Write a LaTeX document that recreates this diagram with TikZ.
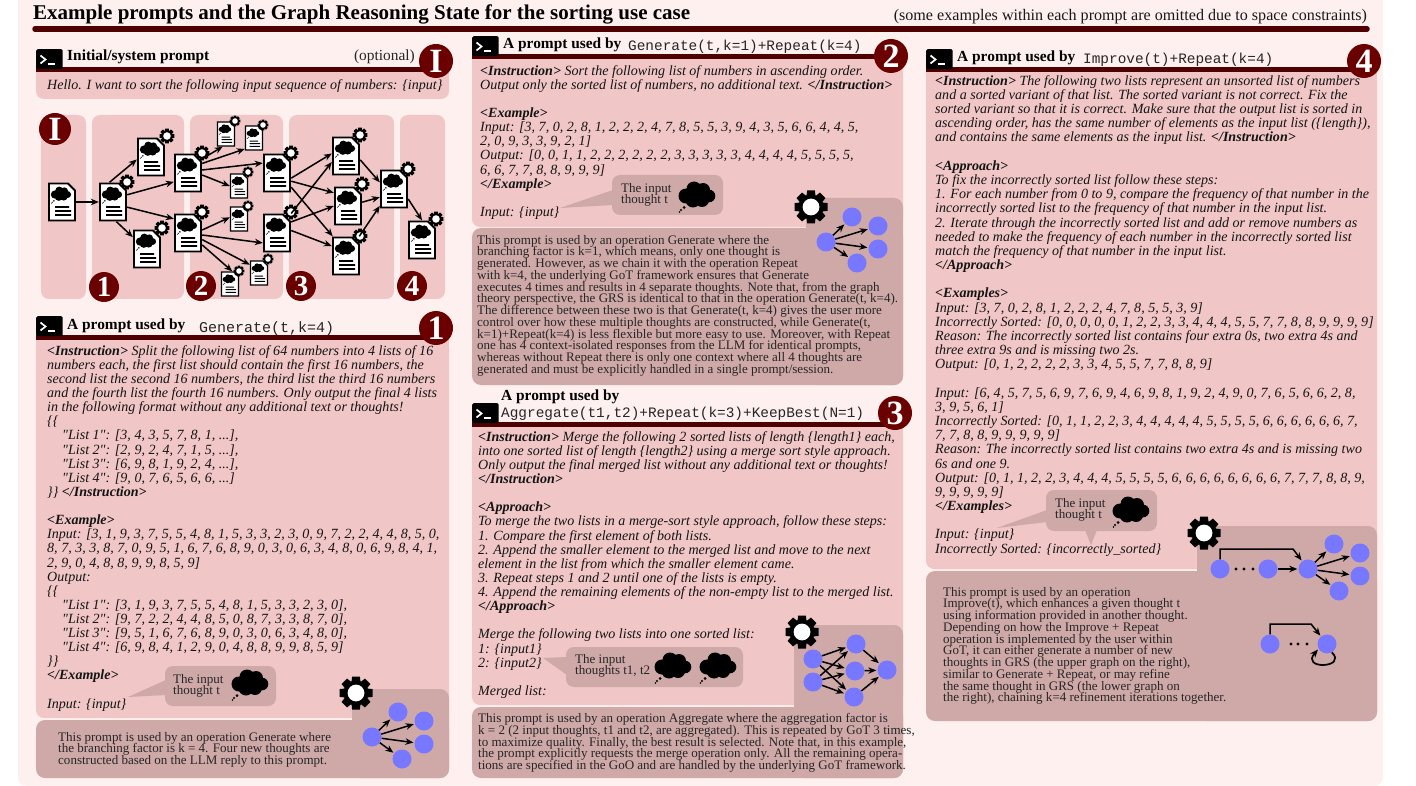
\documentclass[tikz,border=0pt]{standalone}
\usepackage{fontspec}
\setmainfont{Liberation Serif}[Ligatures=TeXOff]
\setmonofont{Liberation Mono}
\usetikzlibrary{arrows.meta}
\definecolor{bgp}{HTML}{FEF0EE}
\definecolor{lightp}{HTML}{F0C6C6}
\definecolor{darkp}{HTML}{CFA8A8}
\definecolor{badgec}{HTML}{6B0000}
\definecolor{barc}{HTML}{4F0000}
\definecolor{nodeb}{HTML}{7777FF}
\newcommand{\prfont}{\fontsize{14.05}{14.12}\selectfont\itshape\lineskiplimit=-100pt\relax}
\newcommand{\prfontb}{\fontsize{14.05}{14.18}\selectfont\itshape\lineskiplimit=-100pt\relax}
\newcommand{\opfont}{\fontsize{13.03}{11.75}\selectfont\lineskiplimit=-100pt\relax}
\newcommand{\tg}[1]{{\bfseries #1}}
\newcommand{\fs}{\rule{0pt}{10pt}}
\newcommand{\ind}{\hspace*{15pt}}
\tikzset{
  prompttext/.style={font=\prfont,inner sep=0pt,align=left,anchor=north west,text=black!92},
  prompttextb/.style={font=\prfontb,inner sep=0pt,align=left,anchor=north west,text=black!92},
  optext/.style={font=\opfont,inner sep=0pt,align=left,anchor=north west,text=black!85},
  headtext/.style={font=\fontsize{15.4}{16}\selectfont\bfseries,inner sep=0pt,anchor=base west},
  monotext/.style={font=\fontsize{14.4}{15}\selectfont\ttfamily,inner sep=0pt,anchor=base west,text=black!85},
  badge/.style={circle,fill=badgec,text=white,inner sep=0pt,font=\fontsize{34}{34}\selectfont\bfseries,minimum size=34pt},
  badgesm/.style={circle,fill=badgec,text=white,inner sep=0pt,font=\fontsize{29}{29}\selectfont\bfseries,minimum size=30pt},
  gnode/.style={circle,fill=nodeb,inner sep=0pt,minimum size=19pt},
  docbig/.style={rectangle,inner sep=0pt,minimum width=28pt,minimum height=39pt},
  docsmall/.style={rectangle,inner sep=0pt,minimum width=18pt,minimum height=25pt},
  conn/.style={-{Stealth[length=8pt,width=6.5pt]},line width=1.5pt,black},
  gconn/.style={-{Stealth[length=8pt,width=6.5pt]},line width=1.5pt,black,shorten >=1pt,shorten <=0pt},
  cloudp/.pic={
    \fill[black] (-11,1) circle (7.5pt) (-3,-6) circle (7.5pt) (6,-5) circle (7pt) (12,1) circle (6.3pt)
      (5,5) circle (7pt) (-4,5) circle (7.5pt);
    \fill[black] (-13,12.5) circle (1.5pt) (-16,15) circle (1.2pt) (-17.5,17) circle (.8pt);
  },
  gearp/.pic={
    \fill[black] (0,0) circle (12.6pt);
    \foreach \a in {0,45,...,315}{\fill[black,rotate=\a] (-3.9,-16.5) -- (3.9,-16.5) -- (4.8,-8) -- (-4.8,-8) -- cycle;}
    \fill[white] (0,0) circle (8.4pt);
  },
}
\newcommand{\tblk}[5]{\node[#4] (#1) at (#2,#3-10) {\fs #5};}
\newcommand{\termicon}[3]{%
  \node[fill=black,rounded corners=1.5pt,inner sep=0pt,minimum width=26.5pt,minimum height=20pt,anchor=north west] (#1) at (#2,#3) {};
  \draw[white,line width=1.7pt] (#2+4.5,#3+6.5) -- (#2+9.5,#3+10.5) -- (#2+4.5,#3+14.5);
  \draw[white,line width=1.6pt] (#2+11.5,#3+15) -- (#2+19,#3+15);
}
\newcommand{\lpanel}[4]{%
  \fill[lightp,rounded corners=8pt] (#1,#2) rectangle (#3,#4);
  \fill[lightp] (#1,#2) rectangle (#3,#2+15);
}
\newcommand{\dpanel}[6]{% x1 y1 x2 y2 notchx notchy
  \fill[darkp,rounded corners=9pt] (#1,#2) rectangle (#3,#4);
  \fill[darkp,rounded corners=9pt] (#5,#6) rectangle (#3,#4);
}
\newcommand{\bubble}[7]{% name x1 y1 x2 y2 tailcoords(text)
  \fill[darkp] #6;
  \fill[darkp,rounded corners=8pt] (#2,#3) rectangle (#4,#5);
  \coordinate (#1) at (#2,#3);
  #7
}
% doc: name x y gear-x gear-y
\newcommand{\dbig}[5]{%
  \node[docbig] (#1) at (#2,#3) {};
  \begin{scope}[shift={(#2,#3)}]
    \filldraw[fill=white,draw=black,line width=1.9pt] (-13,-18.5) -- (6,-18.5) -- (13,-11.5) -- (13,18.5) -- (-13,18.5) -- cycle;
    \pic[scale=.55] at (-1,-8) {cloudp};
    \fill[black] (-7,4.2) rectangle (7,5.8) (-7,8.2) rectangle (9,9.8) (-7,12.2) rectangle (9,13.8);
  \end{scope}
  \ifx&#4&\else\pic[scale=.45] at (#4,#5) {gearp};\fi
}
\newcommand{\dsmall}[5]{%
  \node[docsmall] (#1) at (#2,#3) {};
  \begin{scope}[shift={(#2,#3)}]
    \filldraw[fill=white,draw=black,line width=1.4pt] (-8.5,-12) -- (4,-12) -- (8.5,-7.5) -- (8.5,12) -- (-8.5,12) -- cycle;
    \pic[scale=.34] at (-1,-5) {cloudp};
    \fill[black] (-4.5,2.6) rectangle (4,3.6) (-4.5,5.2) rectangle (6,6.2) (-4.5,7.8) rectangle (6,8.8);
  \end{scope}
  \pic[scale=.33] at (#4,#5) {gearp};
}
\begin{document}
\begin{tikzpicture}[x=1pt,y=-1pt]
\useasboundingbox (0,0) rectangle (1416,786);
\fill[white] (0,0) rectangle (1416,786);
\fill[bgp,rounded corners=9pt] (18,-15) rectangle (1383,786);

% Title
\node[font=\fontsize{21}{22}\selectfont\bfseries,inner sep=0pt,anchor=base west] (title) at (33,20) {Example prompts and the Graph Reasoning State for the sorting use case};
\node[font=\fontsize{16.1}{17}\selectfont,inner sep=0pt,anchor=base east,text=black!90] (note) at (1367,21) {(some examples within each prompt are omitted due to space constraints)};
\draw[barc,line width=5.5pt,line cap=round] (35,29) -- (1367,29);

% ---------- Initial panel
\lpanel{36}{71}{449}{99}
\draw[barc,line width=5pt] (36,70) -- (430,70);
\termicon{iconI}{36}{49}
\node[headtext] (headI) at (67,61) {Initial/system prompt};
\node[font=\fontsize{15.4}{16}\selectfont,inner sep=0pt,anchor=base east,text=black!85] (optI) at (415,61) {(optional)};
\node[badge] (badgeI) at (436,61) {I};
\tblk{textI}{47}{89}{prompttext}{Hello. I want to sort the following input sequence of numbers: \{input\}}

% ---------- Graph area lanes
\fill[lightp,rounded corners=8pt] (41,115) rectangle (86,299);
\fill[lightp,rounded corners=8pt] (92,115) rectangle (184,299);
\fill[lightp,rounded corners=8pt] (190,115) rectangle (283,299);
\fill[lightp,rounded corners=8pt] (289,115) rectangle (394,299);
\fill[lightp,rounded corners=8pt] (400,115) rectangle (445,299);

\dbig{d0}{62}{202}{}{}
\dbig{d1}{113}{202}{127}{182}
\dbig{d2}{151}{157}{167}{136}
\dbig{d3}{147}{249}{162}{228}
\dbig{d4}{188}{173}{202}{153}
\dbig{d5}{188}{233}{202}{212}
\dsmall{d6}{226}{134}{235}{121}
\dsmall{d7}{254}{138}{263}{125}
\dsmall{d8}{239}{186}{248}{172}
\dsmall{d9}{239}{219}{248}{206}
\dsmall{d10}{259}{273}{268}{259}
\dsmall{d11}{230}{284}{239}{271}
\dbig{d12}{277}{173}{291}{153}
\dbig{d13}{277}{233}{291}{212}
\dbig{d14}{346}{156}{360}{135}
\dbig{d15}{348}{206}{362}{184}
\dbig{d16}{346}{256}{360}{236}
\dbig{d17}{394}{189}{408}{169}
\dbig{d18}{422}{240}{436}{219}

\draw[conn] (d0) -- (d1);
\draw[conn] (d1.100) -- (d2.-170);
\draw[conn] (d1.27) -- (d4.-148);
\draw[conn] (d1.-20) -- (d5.135);
\draw[conn] (d1.-80) -- (d3.140);
\draw[conn] (d4.45) -- (d6.-105);
\draw[conn] (d4.34) -- (d7.-130);
\draw[conn] (d4.12) -- (d12.145);
\draw[conn] (d4.-8) -- (d8.180);
\draw[conn] (d5.12) -- (d9.170);
\draw[conn] (d5.-8) -- (d13.-145);
\draw[conn] (d5.-25) -- (d10.138);
\draw[conn] (d5.-40) -- (d11.80);
\draw[conn] (d12.-20) -- (d14.170);
\draw[conn] (d12.-30) -- (d15.137);
\draw[conn] (d12.-45) -- (d16.124);
\draw[conn] (d13.54) -- (d14.-157);
\draw[conn] (d13.38) -- (d15.180);
\draw[conn] (d13.10) -- (d16.145);
\draw[conn] (d14.-15) -- (d17.155);
\draw[conn] (d15.15) -- (d17.-150);
\draw[conn] (d16.56) -- (d17.-130);
\draw[conn] (d17.-35) -- (d18.90);

\node[badge,minimum size=32pt] (bI2) at (55,129) {I};
\node[badgesm] (b1) at (104,287) {1};
\node[badgesm] (b2) at (201,286) {2};
\node[badgesm] (b3) at (301,286) {3};
\node[badgesm] (b4) at (412,286) {4};

% ---------- Panel 1
\lpanel{36}{339}{449}{718}
\dpanel{36}{720}{449}{778}{352}{689}
\draw[barc,line width=5pt] (36,337) -- (430,337);
\termicon{icon1}{36}{316}
\node[headtext] (head1) at (67,329) {A prompt used by};
\node[monotext,font=\fontsize{15}{15}\selectfont\ttfamily] (mono1) at (199,332) {Generate(t,k=4)};
\node[badge] (badge1) at (436,328) {1};
\tblk{text1}{47}{355}{prompttext}{\tg{<Instruction>} Split the following list of 64 numbers into 4 lists of 16\\
numbers each, the first list should contain the first 16 numbers, the\\
second list the second 16 numbers, the third list the third 16 numbers\\
and the fourth list the fourth 16 numbers. Only output the final 4 lists\\
in the following format without any additional text or thoughts!\\
\{\{\\
\ind "List 1": [3, 4, 3, 5, 7, 8, 1, ...],\\
\ind "List 2": [2, 9, 2, 4, 7, 1, 5, ...],\\
\ind "List 3": [6, 9, 8, 1, 9, 2, 4, ...],\\
\ind "List 4": [9, 0, 7, 6, 5, 6, 6, ...]\\
\}\} \tg{</Instruction>}\\
\\
\tg{<Example>}\\
Input: [3, 1, 9, 3, 7, 5, 5, 4, 8, 1, 5, 3, 3, 2, 3, 0, 9, 7, 2, 2, 4, 4, 8, 5, 0,\\
8, 7, 3, 3, 8, 7, 0, 9, 5, 1, 6, 7, 6, 8, 9, 0, 3, 0, 6, 3, 4, 8, 0, 6, 9, 8, 4, 1,\\
2, 9, 0, 4, 8, 8, 9, 9, 8, 5, 9]\\
Output:\\
\{\{\\
\ind "List 1": [3, 1, 9, 3, 7, 5, 5, 4, 8, 1, 5, 3, 3, 2, 3, 0],\\
\ind "List 2": [9, 7, 2, 2, 4, 4, 8, 5, 0, 8, 7, 3, 3, 8, 7, 0],\\
\ind "List 3": [9, 5, 1, 6, 7, 6, 8, 9, 0, 3, 0, 6, 3, 4, 8, 0],\\
\ind "List 4": [6, 9, 8, 4, 1, 2, 9, 0, 4, 8, 8, 9, 9, 8, 5, 9]\\
\}\}\\
\tg{</Example>}\\
\\
Input: \{input\}}
\bubble{bub1}{165}{666}{276}{706}{(128,697) -- (166,680) -- (166,695) -- cycle}{
\tblk{bubt1}{173}{683}{optext}{The input\\thought t}
\pic at (250,683) {cloudp};}
\tblk{op1}{58}{741}{optext}{This prompt is used by an operation Generate where\\
the branching factor is k = 4. Four new thoughts are\\
constructed based on the LLM reply to this prompt.}
\pic at (356,693) {gearp};
\node[gnode] (a0) at (372,737) {};
\node[gnode] (a1) at (398,712) {};
\node[gnode] (a2) at (424,721) {};
\node[gnode] (a3) at (424,744) {};
\node[gnode] (a4) at (402,759) {};
\foreach \t in {a1,a2,a3,a4}{\draw[gconn] (a0) -- (\t);}

% ---------- Panel 2
\lpanel{472}{59}{903}{227}
\dpanel{472}{228}{903}{385}{806}{198}
\draw[barc,line width=5pt] (472,57) -- (880,57);
\termicon{icon2}{472}{36}
\node[headtext] (head2) at (503,49) {A prompt used by};
\node[monotext] (mono2) at (628,51) {Generate(t,k=1)+Repeat(k=4)};
\node[badge] (badge2) at (891,56) {2};
\tblk{text2}{480}{75}{prompttext}{\tg{<Instruction>} Sort the following list of numbers in ascending order.\\
Output only the sorted list of numbers, no additional text. \tg{</Instruction>}\\
\\
\tg{<Example>}\\
Input: [3, 7, 0, 2, 8, 1, 2, 2, 2, 4, 7, 8, 5, 5, 3, 9, 4, 3, 5, 6, 6, 4, 4, 5,\\
2, 0, 9, 3, 3, 9, 2, 1]\\
Output: [0, 0, 1, 1, 2, 2, 2, 2, 2, 2, 3, 3, 3, 3, 3, 4, 4, 4, 4, 5, 5, 5, 5,\\
6, 6, 7, 7, 8, 8, 9, 9, 9]\\
\tg{</Example>}\\
\\
Input: \{input\}}
\bubble{bub2}{612}{175}{723}{215}{(560,208) -- (613,190) -- (613,205) -- cycle}{
\tblk{bubt2}{621}{192}{optext}{The input\\thought t}
\pic at (697,195) {cloudp};}
\tblk{op2}{477}{244}{optext}{This prompt is used by an operation Generate where the\\
branching factor is k=1, which means, only one thought is\\
generated. However, as we chain it with the operation Repeat\\
with k=4, the underlying GoT framework ensures that Generate\\
executes 4 times and results in 4 separate thoughts. Note that, from the graph\\
theory perspective, the GRS is identical to that in the operation Generate(t, k=4).\\
The difference between these two is that Generate(t, k=4) gives the user more\\
control over how these multiple thoughts are constructed, while Generate(t,\\
k=1)+Repeat(k=4) is less flexible but more easy to use. Moreover, with Repeat\\
one has 4 context-isolated responses from the LLM for identical prompts,\\
whereas without Repeat there is only one context where all 4 thoughts are\\
generated and must be explicitly handled in a single prompt/session.}
\pic at (811,207) {gearp};
\node[gnode] (b0) at (826,242) {};
\node[gnode] (bb1) at (852,217) {};
\node[gnode] (bb2) at (878,226) {};
\node[gnode] (bb3) at (878,249) {};
\node[gnode] (bb4) at (857,263) {};
\foreach \t in {bb1,bb2,bb3,bb4}{\draw[gconn] (b0) -- (\t);}

% ---------- Panel 3
\lpanel{472}{427}{903}{705}
\dpanel{472}{707}{903}{778}{794}{625}
\draw[barc,line width=5pt] (472,424) -- (885,424);
\termicon{icon3}{472}{403}
\node[headtext] (head3a) at (501,400) {A prompt used by};
\node[monotext] (mono3) at (501,417) {Aggregate(t1,t2)+Repeat(k=3)+KeepBest(N=1)};
\node[badge] (badge3) at (895,413) {3};
\tblk{text3}{478}{441}{prompttext}{\tg{<Instruction>} Merge the following 2 sorted lists of length \{length1\} each,\\
into one sorted list of length \{length2\} using a merge sort style approach.\\
Only output the final merged list without any additional text or thoughts!\\
\tg{</Instruction>}\\
\\
\tg{<Approach>}\\
To merge the two lists in a merge-sort style approach, follow these steps:\\
1. Compare the first element of both lists.\\
2. Append the smaller element to the merged list and move to the next\\
element in the list from which the smaller element came.\\
3. Repeat steps 1 and 2 until one of the lists is empty.\\
4. Append the remaining elements of the non-empty list to the merged list.\\
\tg{</Approach>}\\
\\
Merge the following two lists into one sorted list:\\
1: \{input1\}\\
2: \{input2\}\\
\\
Merged list:}
\bubble{bub3}{566}{647}{743}{687}{(543,658) -- (567,657) -- (567,675) -- cycle}{
\tblk{bubt3}{575}{663}{optext}{The input\\thoughts t1, t2}
\pic at (673,666) {cloudp};
\pic at (718,666) {cloudp};}
\tblk{op3}{478}{722.5}{optext}{This prompt is used by an operation Aggregate where the aggregation factor is\\
k = 2 (2 input thoughts, t1 and t2, are aggregated). This is repeated by GoT 3 times,\\
to maximize quality. Finally, the best result is selected. Note that, in this example,\\
the prompt explicitly requests the merge operation only. All the remaining opera-\\
tions are specified in the GoO and are handled by the underlying GoT framework.}
\pic at (802,632) {gearp};
\node[gnode] (ca) at (813,659) {};
\node[gnode] (cb) at (813,682) {};
\node[gnode] (cc) at (856,644) {};
\node[gnode] (cd) at (855,671) {};
\node[gnode] (ce) at (854,697) {};
\node[gnode] (cf) at (887,670) {};
\foreach \s in {ca,cb}{\foreach \t in {cc,cd,ce}{\draw[gconn] (\s) -- (\t);}}
\foreach \s in {cc,cd,ce}{\draw[gconn] (\s) -- (cf);}

% ---------- Panel 4
\lpanel{926}{72}{1377}{569}
\dpanel{926}{571}{1377}{721}{1197}{526}
\draw[barc,line width=5pt] (926,70) -- (1355,70);
\termicon{icon4}{926}{49}
\node[headtext] (head4) at (957,62) {A prompt used by};
\node[monotext] (mono4) at (1083,64) {Improve(t)+Repeat(k=4)};
\node[badge] (badge4) at (1364,61) {4};
\tblk{text4}{935}{85}{prompttextb}{\tg{<Instruction>} The following two lists represent an unsorted list of numbers\\
and a sorted variant of that list. The sorted variant is not correct. Fix the\\
sorted variant so that it is correct. Make sure that the output list is sorted in\\
ascending order, has the same number of elements as the input list (\{length\}),\\
and contains the same elements as the input list. \tg{</Instruction>}\\
\\
\tg{<Approach>}\\
To fix the incorrectly sorted list follow these steps:\\
1. For each number from 0 to 9, compare the frequency of that number in the\\
incorrectly sorted list to the frequency of that number in the input list.\\
2. Iterate through the incorrectly sorted list and add or remove numbers as\\
needed to make the frequency of each number in the incorrectly sorted list\\
match the frequency of that number in the input list.\\
\tg{</Approach>}\\
\\
\tg{<Examples>}\\
Input: [3, 7, 0, 2, 8, 1, 2, 2, 2, 4, 7, 8, 5, 5, 3, 9]\\
Incorrectly Sorted: [0, 0, 0, 0, 0, 1, 2, 2, 3, 3, 4, 4, 4, 5, 5, 7, 7, 8, 8, 9, 9, 9, 9]\\
Reason: The incorrectly sorted list contains four extra 0s, two extra 4s and\\
three extra 9s and is missing two 2s.\\
Output: [0, 1, 2, 2, 2, 2, 3, 3, 4, 5, 5, 7, 7, 8, 8, 9]\\
\\
Input: [6, 4, 5, 7, 5, 6, 9, 7, 6, 9, 4, 6, 9, 8, 1, 9, 2, 4, 9, 0, 7, 6, 5, 6, 6, 2, 8,\\
3, 9, 5, 6, 1]\\
Incorrectly Sorted: [0, 1, 1, 2, 2, 3, 4, 4, 4, 4, 4, 5, 5, 5, 5, 6, 6, 6, 6, 6, 6, 7,\\
7, 7, 8, 8, 9, 9, 9, 9, 9]\\
Reason: The incorrectly sorted list contains two extra 4s and is missing two\\
6s and one 9.\\
Output: [0, 1, 1, 2, 2, 3, 4, 4, 4, 5, 5, 5, 5, 6, 6, 6, 6, 6, 6, 6, 6, 7, 7, 7, 8, 8, 9,\\
9, 9, 9, 9, 9]\\
\tg{</Examples>}\\
\\
Input: \{input\}\\
Incorrectly Sorted: \{incorrectly\_sorted\}}
\bubble{bub4}{1046}{490}{1157}{531}{(997,528) -- (1047,510) -- (1047,522) -- cycle (1085,530) -- (1097,530) -- (1091,545) -- cycle}{
\tblk{bubt4}{1055}{507}{optext}{The input\\thought t}
\pic at (1131,510) {cloudp};}
\tblk{op4}{943}{596}{optext}{This prompt is used by an operation\\
Improve(t), which enhances a given thought t\\
using information provided in another thought.\\
Depending on how the Improve + Repeat\\
operation is implemented by the user within\\
GoT, it can either generate a number of new\\
thoughts in GRS (the upper graph on the right),\\
similar to Generate + Repeat, or may refine\\
the same thought in GRS (the lower graph on\\
the right), chaining k=4 refinement iterations together.}
\pic at (1204,533) {gearp};
\node[gnode] (n1) at (1220,569) {};
\node[gnode] (n2) at (1268,569) {};
\node[gnode] (n3) at (1308,569) {};
\node[gnode] (n4) at (1334,544) {};
\node[gnode] (n5) at (1360,553) {};
\node[gnode] (n6) at (1360,576) {};
\node[gnode] (n7) at (1339,591) {};
\fill[black] (1236,569) circle (1.6pt) (1244,569) circle (1.6pt) (1253,569) circle (1.6pt);
\coordinate (u1) at (1220,549);
\coordinate (u2) at (1293,549);
\draw[gconn] (n1.north) -- (u1) -- (u2) -- (n3);
\draw[gconn] (n2) -- (n3);
\foreach \t in {n4,n5,n6,n7}{\draw[gconn] (n3) -- (\t);}
\node[gnode] (m1) at (1270,644) {};
\node[gnode] (m2) at (1327,644) {};
\fill[black] (1291,644) circle (1.6pt) (1298,644) circle (1.6pt) (1307,644) circle (1.6pt);
\coordinate (v1) at (1270,624);
\coordinate (v2) at (1311,624);
\draw[gconn] (m1.north) -- (v1) -- (v2) -- (m2);
\draw[gconn,line width=1.7pt] (m2.-60) .. controls (1348,668) and (1300,670) .. (m2.-150);
\end{tikzpicture}
\end{document}
